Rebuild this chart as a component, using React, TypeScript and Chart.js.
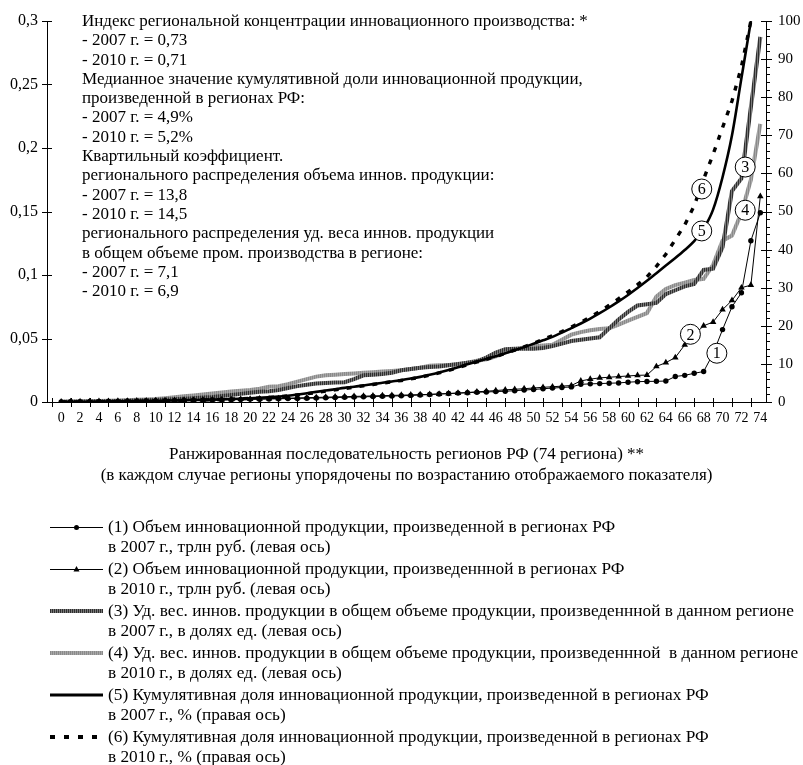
import React, { useEffect, useRef } from 'react';
import { Chart, registerables } from 'chart.js';

Chart.register(...registerables);

const FONT = "'Liberation Serif', 'Times New Roman', serif";

const REGIONS = [
  0, 1, 2, 3, 4, 5, 6, 7, 8, 9, 10, 11, 12, 13, 14, 15, 16, 17, 18, 19,
  20, 21, 22, 23, 24, 25, 26, 27, 28, 29, 30, 31, 32, 33, 34, 35, 36, 37, 38, 39,
  40, 41, 42, 43, 44, 45, 46, 47, 48, 49, 50, 51, 52, 53, 54, 55, 56, 57, 58, 59,
  60, 61, 62, 63, 64, 65, 66, 67, 68, 69, 70, 71, 72, 73, 74,
];

// (1) volume 2007, trillion rub (left axis)
const S1 = [
  0.0001, 0.0002, 0.0002, 0.0003, 0.0004, 0.0004, 0.0005, 0.0006, 0.0007, 0.0008,
  0.0009, 0.001, 0.0011, 0.0012, 0.0013, 0.0015, 0.0016, 0.0017, 0.0018, 0.002,
  0.0021, 0.0022, 0.0024, 0.0025, 0.0027, 0.0028, 0.003, 0.0031, 0.0033, 0.0035,
  0.0037, 0.0039, 0.0041, 0.0043, 0.0045, 0.0047, 0.0049, 0.0052, 0.0055, 0.0059,
  0.0063, 0.0067, 0.007, 0.0073, 0.0077, 0.0079, 0.0082, 0.0085, 0.0089, 0.0094,
  0.0099, 0.0104, 0.011, 0.0114, 0.0119, 0.0139, 0.0143, 0.0145, 0.0148, 0.015,
  0.0156, 0.016, 0.0162, 0.0163, 0.0165, 0.0201, 0.021, 0.0226, 0.024, 0.038,
  0.057, 0.075, 0.086, 0.127, 0.149,
];

// (2) volume 2010, trillion rub (left axis)
const S2 = [
  0.0002, 0.0003, 0.0003, 0.0004, 0.0005, 0.0006, 0.0007, 0.0008, 0.0009, 0.001,
  0.0011, 0.0012, 0.0014, 0.0015, 0.0016, 0.0017, 0.0018, 0.0019, 0.002, 0.0022,
  0.0023, 0.0025, 0.0026, 0.0028, 0.003, 0.0032, 0.0034, 0.0036, 0.0038, 0.004,
  0.0042, 0.0044, 0.0046, 0.0048, 0.005, 0.0052, 0.0054, 0.0056, 0.0058, 0.006,
  0.0063, 0.0066, 0.007, 0.0075, 0.008, 0.0085, 0.009, 0.0096, 0.01, 0.0105,
  0.011, 0.0116, 0.012, 0.0125, 0.013, 0.0166, 0.018, 0.019, 0.0195, 0.02,
  0.0205, 0.021, 0.0212, 0.028, 0.031, 0.035, 0.045, 0.053, 0.06, 0.063,
  0.0727, 0.08, 0.09, 0.092, 0.162,
];

// (3) share of innovative products 2007 (left axis)
const S3 = [
  0.0001, 0.0002, 0.0003, 0.0004, 0.0005, 0.0006, 0.0008, 0.001, 0.0012, 0.0014,
  0.0016, 0.0019, 0.0022, 0.0026, 0.003, 0.0035, 0.004, 0.0048, 0.0056, 0.0064,
  0.0072, 0.008, 0.0085, 0.0095, 0.011, 0.0125, 0.0135, 0.0145, 0.015, 0.0153,
  0.0156, 0.018, 0.021, 0.0215, 0.022, 0.023, 0.025, 0.026, 0.027, 0.0275,
  0.028, 0.029, 0.03, 0.031, 0.032, 0.035, 0.039, 0.0415, 0.042, 0.042,
  0.042, 0.0425, 0.044, 0.046, 0.048, 0.049, 0.05, 0.051, 0.058, 0.065,
  0.071, 0.076, 0.077, 0.078, 0.085, 0.088, 0.091, 0.093, 0.104, 0.105,
  0.122, 0.166, 0.176, 0.232, 0.2875,
];

// (4) share of innovative products 2010 (left axis)
const S4 = [
  0.0002, 0.0003, 0.0004, 0.0006, 0.0008, 0.001, 0.0012, 0.0014, 0.0017, 0.002,
  0.0023, 0.003, 0.0037, 0.0045, 0.0052, 0.006, 0.0067, 0.0075, 0.0082, 0.0088,
  0.0095, 0.0105, 0.012, 0.0125, 0.014, 0.016, 0.018, 0.02, 0.021, 0.0215,
  0.022, 0.0225, 0.023, 0.0235, 0.024, 0.0245, 0.025, 0.026, 0.027, 0.0285,
  0.029, 0.0292, 0.0295, 0.031, 0.0325, 0.0336, 0.036, 0.039, 0.0415, 0.043,
  0.044, 0.0445, 0.045, 0.049, 0.053, 0.055, 0.0565, 0.0575, 0.058, 0.061,
  0.064, 0.067, 0.07, 0.083, 0.089, 0.092, 0.094, 0.096, 0.097, 0.108,
  0.127, 0.131, 0.149, 0.175, 0.219,
];

// (5) cumulative share 2007, % (right axis)
const S5 = [
  0.01, 0.03, 0.05, 0.08, 0.11, 0.14, 0.17, 0.2, 0.24, 0.28,
  0.32, 0.36, 0.41, 0.46, 0.51, 0.56, 0.62, 0.69, 0.77, 0.88,
  1.0, 1.1, 1.25, 1.42, 1.65, 1.95, 2.3, 2.65, 3.0, 3.35,
  3.7, 4.0, 4.35, 4.7, 5.05, 5.4, 5.75, 6.15, 6.6, 7.15,
  7.75, 8.4, 9.1, 9.9, 10.6, 11.3, 12.0, 12.8, 13.6, 14.4,
  15.3, 16.2, 17.1, 18.2, 19.4, 20.6, 21.9, 23.3, 24.8, 26.4,
  28.1, 29.9, 31.8, 33.8, 35.8, 37.8, 39.9, 42.2, 45.5, 50.5,
  59, 70, 85, 100,
];

// (6) cumulative share 2010, % (right axis)
const S6 = [
  0.01, 0.02, 0.04, 0.06, 0.09, 0.12, 0.15, 0.18, 0.21, 0.25,
  0.29, 0.33, 0.38, 0.43, 0.48, 0.53, 0.59, 0.66, 0.74, 0.84,
  0.95, 1.06, 1.2, 1.37, 1.58, 1.85, 2.15, 2.5, 2.85, 3.2,
  3.55, 3.9, 4.25, 4.6, 4.95, 5.3, 5.65, 6.05, 6.5, 7.05,
  7.65, 8.3, 9.0, 9.75, 10.5, 11.2, 11.95, 12.75, 13.6, 14.5,
  15.4, 16.4, 17.4, 18.5, 19.7, 20.9, 22.3, 23.8, 25.4, 27.1,
  28.9, 30.8, 32.8, 35.6, 38.8, 42.6, 46.5, 51.5, 58.5, 65,
  72, 79, 88, 100,
];

const X_TICKS = [
  0, 2, 4, 6, 8, 10, 12, 14, 16, 18, 20, 22, 24, 26, 28, 30, 32, 34, 36,
  38, 40, 42, 44, 46, 48, 50, 52, 54, 56, 58, 60, 62, 64, 66, 68, 70, 72, 74,
];
const X_MARKS = [
  -1, 1, 3, 5, 7, 9, 11, 13, 15, 17, 19, 21, 23, 25, 27, 29, 31, 33, 35, 37,
  39, 41, 43, 45, 47, 49, 51, 53, 55, 57, 59, 61, 63, 65, 67, 69, 71, 73,
];
const LEFT_TICKS = [0, 0.05, 0.1, 0.15, 0.2, 0.25, 0.3];
const RIGHT_TICKS = [0, 10, 20, 30, 40, 50, 60, 70, 80, 90, 100];
const RIGHT_MINOR = [
  2, 4, 6, 8, 12, 14, 16, 18, 22, 24, 26, 28, 32, 34, 36, 38, 42, 44, 46, 48,
  52, 54, 56, 58, 62, 64, 66, 68, 72, 74, 76, 78, 82, 84, 86, 88, 92, 94, 96, 98,
];

const NOTE_LINES = [
  'Индекс региональной концентрации инновационного производства: *',
  '- 2007 г. = 0,73',
  '- 2010 г. = 0,71',
  'Медианное значение кумулятивной доли инновационной продукции,',
  'произведенной в регионах РФ:',
  '- 2007 г. = 4,9%',
  '- 2010 г. = 5,2%',
  'Квартильный коэффициент.',
  'регионального распределения объема иннов. продукции:',
  '- 2007 г. = 13,8',
  '- 2010 г. = 14,5',
  'регионального распределения уд. веса иннов. продукции',
  'в общем объеме пром. производства в регионе:',
  '- 2007 г. = 7,1',
  '- 2010 г. = 6,9',
];

const AXIS_TITLE = [
  'Ранжированная последовательность регионов РФ (74 региона) **',
  '(в каждом случае регионы упорядочены по возрастанию отображаемого показателя)',
];

const LEGEND_TEXT = [
  ['(1) Объем инновационной продукции, произведенной в регионах РФ', 'в 2007 г., трлн руб. (левая ось)'],
  ['(2) Объем инновационной продукции, произведеннной в регионах РФ', 'в 2010 г., трлн руб. (левая ось)'],
  ['(3) Уд. вес. иннов. продукции в общем объеме продукции, произведеннной в данном регионе', 'в 2007 г., в долях ед. (левая ось)'],
  ['(4) Уд. вес. иннов. продукции в общем объеме продукции, произведеннной  в данном регионе', 'в 2010 г., в долях ед. (левая ось)'],
  ['(5) Кумулятивная доля инновационной продукции, произведенной в регионах РФ', 'в 2007 г., % (правая ось)'],
  ['(6) Кумулятивная доля инновационной продукции, произведенной в регионах РФ', 'в 2010 г., % (правая ось)'],
];

// numbered callouts: label, region index, value, axis
const CALLOUTS = [
  { n: '1', x: 69.4, v: 0.0384, axis: 'y' },
  { n: '2', x: 66.6, v: 0.0533, axis: 'y' },
  { n: '3', x: 72.4, v: 0.185, axis: 'y' },
  { n: '4', x: 72.4, v: 0.151, axis: 'y' },
  { n: '5', x: 67.8, v: 44.9, axis: 'y1' },
  { n: '6', x: 67.8, v: 55.9, axis: 'y1' },
];

export default function App() {
  const ref = useRef<HTMLCanvasElement>(null);

  useEffect(() => {
    const canvas = ref.current as HTMLCanvasElement;
    const mainCtx = canvas.getContext('2d') as CanvasRenderingContext2D;
    const tile = (a: string, b: string) => {
      const c = document.createElement('canvas');
      c.width = 2;
      c.height = 1;
      const g = c.getContext('2d') as CanvasRenderingContext2D;
      g.fillStyle = a;
      g.fillRect(0, 0, 1, 1);
      g.fillStyle = b;
      g.fillRect(1, 0, 1, 1);
      return mainCtx.createPattern(c, 'repeat') as CanvasPattern;
    };
    const P3 = tile('#2e2e2e', '#7a7a7a');
    const P4 = tile('#8a8a8a', '#a8a8a8');

    const pts = (vals: number[]) => vals.map((v, i) => ({ x: REGIONS[i], y: v }));

    const drawSymbol = (c: CanvasRenderingContext2D, k: number, x0: number, x1: number, y: number) => {
      c.save();
      c.strokeStyle = '#000';
      c.fillStyle = '#000';
      c.setLineDash([]);
      const mid = (x0 + x1) / 2;
      if (k === 0 || k === 1) {
        c.lineWidth = 1;
        c.beginPath();
        c.moveTo(x0, y + 0.5);
        c.lineTo(x1, y + 0.5);
        c.stroke();
        c.beginPath();
        if (k === 0) {
          c.arc(mid, y + 0.5, 2.5, 0, Math.PI * 2);
        } else {
          c.moveTo(mid, y - 3);
          c.lineTo(mid + 3, y + 2.5);
          c.lineTo(mid - 3, y + 2.5);
          c.closePath();
        }
        c.fill();
      } else if (k === 2 || k === 3) {
        c.fillStyle = k === 2 ? P3 : P4;
        c.fillRect(x0, y - 2, x1 - x0, 4);
      } else if (k === 4) {
        c.fillRect(x0, y - 1.5, x1 - x0, 3);
      } else {
        for (let x = x0; x + 5 <= x1; x += 14) c.fillRect(x, y - 2, 5, 4);
      }
      c.restore();
    };

    const decor = {
      id: 'decor',
      afterDraw(chart: any) {
        const c: CanvasRenderingContext2D = chart.ctx;
        const a = chart.chartArea;
        const sx = chart.scales.x;
        const sy = chart.scales.y;
        const sr = chart.scales.y1;
        c.save();
        c.strokeStyle = '#000';
        c.lineWidth = 1;
        c.setLineDash([]);
        c.beginPath();
        X_MARKS.forEach((v) => {
          const p = Math.round(sx.getPixelForValue(v)) + 0.5;
          if (p > a.left + 1 && p < a.right - 1) {
            c.moveTo(p, a.bottom - 4);
            c.lineTo(p, a.bottom + 5);
          }
        });
        LEFT_TICKS.forEach((v) => {
          const p = Math.round(sy.getPixelForValue(v)) + 0.5;
          c.moveTo(a.left - 5, p);
          c.lineTo(a.left + 5, p);
        });
        RIGHT_TICKS.forEach((v) => {
          const p = Math.round(sr.getPixelForValue(v)) + 0.5;
          c.moveTo(a.right - 5, p);
          c.lineTo(a.right + 6, p);
        });
        RIGHT_MINOR.forEach((v) => {
          const p = Math.round(sr.getPixelForValue(v)) + 0.5;
          c.moveTo(a.right, p);
          c.lineTo(a.right + 4, p);
        });
        c.stroke();

        // callouts
        c.font = `16px ${FONT}`;
        c.textAlign = 'center';
        c.textBaseline = 'middle';
        CALLOUTS.forEach((o) => {
          const sc = o.axis === 'y' ? sy : sr;
          const px = sx.getPixelForValue(o.x);
          const py = sc.getPixelForValue(o.v);
          c.beginPath();
          c.arc(px, py, 10, 0, Math.PI * 2);
          c.fillStyle = '#fff';
          c.fill();
          c.stroke();
          c.fillStyle = '#000';
          c.fillText(o.n, px, py + 1);
        });

        // notes
        c.font = `17px ${FONT}`;
        c.textAlign = 'left';
        c.fillStyle = '#000';
        NOTE_LINES.forEach((t, i) => {
          c.fillText(t, a.left + 35, 21.5 + 19.3 * i);
        });

        // axis title
        c.textAlign = 'center';
        const cx = (a.left + a.right) / 2;
        c.fillText(AXIS_TITLE[0], cx, 455);
        c.fillText(AXIS_TITLE[1], cx, 476);

        // legend
        c.font = `17.3px ${FONT}`;
        c.textAlign = 'left';
        LEGEND_TEXT.forEach((lines, k) => {
          const y0 = 527 + 42 * k;
          drawSymbol(c, k, 50, 103, y0);
          c.fillStyle = '#000';
          c.fillText(lines[0], 108, y0);
          c.fillText(lines[1], 108, y0 + 20);
        });
        c.restore();
      },
    };

    const chart = new Chart(canvas, {
      type: 'line',
      data: {
        datasets: [
          { label: '(1)', data: pts(S1), yAxisID: 'y', borderColor: '#000', backgroundColor: '#000', borderWidth: 1, pointRadius: 2.7, pointStyle: 'circle', pointBorderWidth: 0, order: 1 },
          { label: '(2)', data: pts(S2), yAxisID: 'y', borderColor: '#000', backgroundColor: '#000', borderWidth: 1, pointRadius: 3.8, pointStyle: 'triangle', pointBorderWidth: 0, order: 2 },
          { label: '(5)', data: pts(S5), yAxisID: 'y1', borderColor: '#000', borderWidth: 2.6, pointRadius: 0, cubicInterpolationMode: 'monotone', order: 3 },
          { label: '(6)', data: pts(S6), yAxisID: 'y1', borderColor: '#000', borderWidth: 3.4, borderDash: [5, 8], borderCapStyle: 'butt', pointRadius: 0, order: 4 },
          { label: '(3)', data: pts(S3), yAxisID: 'y', borderColor: P3, borderWidth: 4, pointRadius: 0, order: 5 },
          { label: '(4)', data: pts(S4), yAxisID: 'y', borderColor: P4, borderWidth: 4, pointRadius: 0, order: 6 },
        ] as any,
      },
      options: {
        animation: false,
        responsive: false,
        events: [],
        layout: { padding: { top: 19, bottom: 333, left: 0, right: 0 } },
        plugins: { legend: { display: false }, tooltip: { enabled: false } },
        elements: { line: { tension: 0 } },
        scales: {
          x: {
            type: 'linear',
            min: -1.5,
            max: 74.6,
            afterFit: (s: any) => { s.height = 30; },
            afterBuildTicks: (s: any) => { s.ticks = X_TICKS.map((v) => ({ value: v })); },
            grid: { display: false, drawTicks: false },
            border: { display: true, color: '#000', width: 1 },
            ticks: {
              color: '#000',
              font: { family: FONT, size: 14 },
              padding: 8,
              autoSkip: false,
              maxRotation: 0,
              minRotation: 0,
              callback: (v: any) => String(v),
            },
          },
          y: {
            position: 'left',
            min: 0,
            max: 0.3,
            afterFit: (s: any) => { s.width = 47; },
            afterBuildTicks: (s: any) => { s.ticks = LEFT_TICKS.map((v) => ({ value: v })); },
            grid: { display: false, drawTicks: false },
            border: { display: true, color: '#000', width: 1 },
            ticks: {
              color: '#000',
              font: { family: FONT, size: 16 },
              padding: 9,
              callback: (v: any) => String(v).replace('.', ','),
            },
          },
          y1: {
            position: 'right',
            min: 0,
            max: 100,
            afterFit: (s: any) => { s.width = 37; },
            afterBuildTicks: (s: any) => { s.ticks = RIGHT_TICKS.map((v) => ({ value: v })); },
            grid: { display: false, drawTicks: false },
            border: { display: true, color: '#000', width: 1 },
            ticks: {
              color: '#000',
              font: { family: FONT, size: 15 },
              padding: 12,
              callback: (v: any) => String(v),
            },
          },
        },
      } as any,
      plugins: [decor],
    });
    return () => chart.destroy();
  }, []);

  return (
    <div style={{ position: 'absolute', left: 0, top: 0, width: 803, height: 765, background: '#fff' }}>
      <canvas ref={ref} width={803} height={765} style={{ display: 'block' }} />
    </div>
  );
}
